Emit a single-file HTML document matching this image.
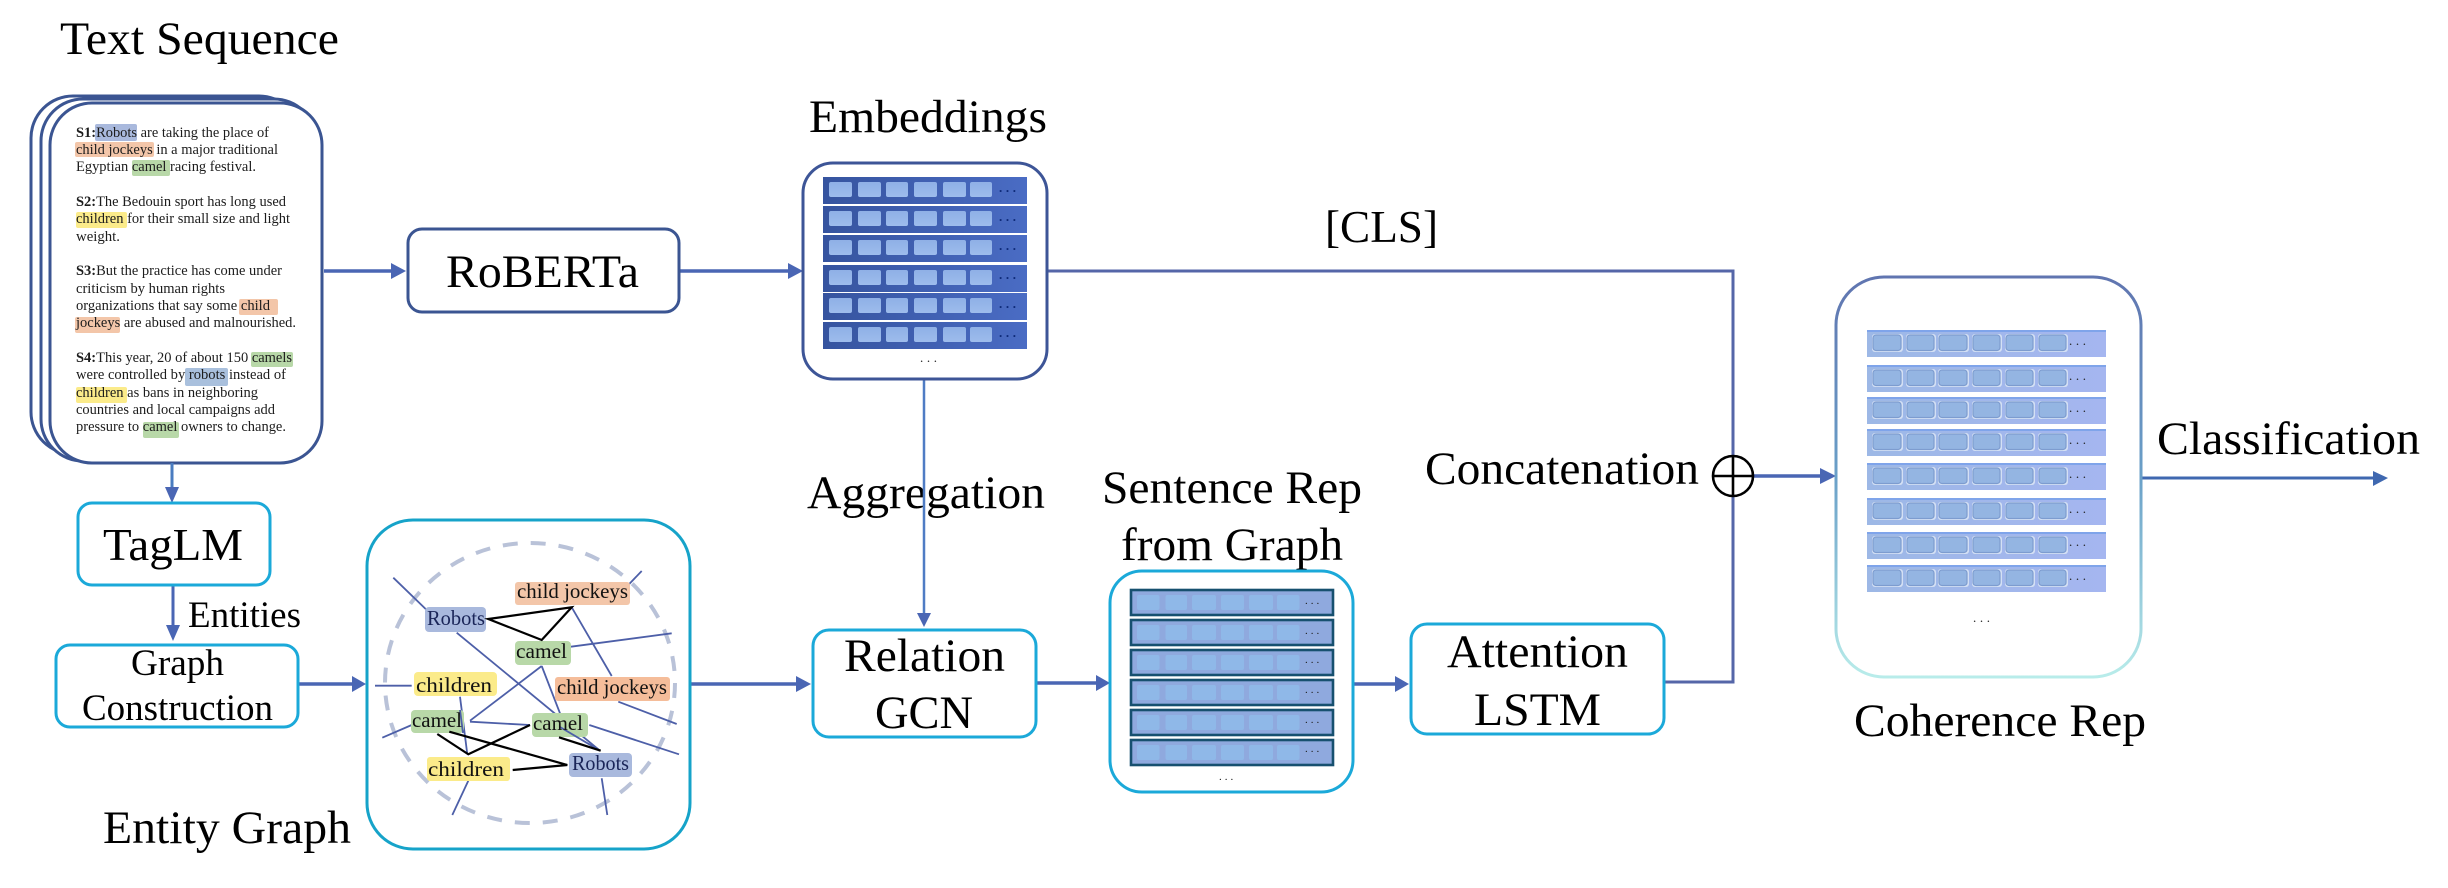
<!DOCTYPE html>
<html lang="en">
<head>
<meta charset="utf-8">
<title>Coherence model architecture</title>
<style>
html,body{margin:0;padding:0;background:#fff;width:2448px;height:888px;overflow:hidden}
svg{display:block}
text{font-family:"Liberation Serif",serif;fill:#000}
.seq{font-size:14.5px;fill:#1c1c1c}
.ent{font-size:21px;fill:#111}
.d{font-size:13px;letter-spacing:3.6px;fill:#0e2a78;font-weight:bold}
.d2{font-size:13px;letter-spacing:3.6px;fill:#222}
.bl{stroke:#000;stroke-width:2.2;fill:none}
.th{stroke:#4d5fa8;stroke-width:1.8;fill:none}
.ln{stroke:#4a66b4;stroke-width:3.5;fill:none}
.hd{fill:#4a66b4}
</style>
</head>
<body>
<svg width="2448" height="888" viewBox="0 0 2448 888" xmlns="http://www.w3.org/2000/svg">
<defs>
<linearGradient id="eg" x1="0" x2="1" y1="0" y2="0"><stop offset="0" stop-color="#36549f"/><stop offset="1" stop-color="#4a6cc4"/></linearGradient>
<linearGradient id="ec" x1="0" x2="0" y1="0" y2="1"><stop offset="0" stop-color="#8fb0e6"/><stop offset="1" stop-color="#9dbcec"/></linearGradient>
<linearGradient id="cg" x1="0" x2="1" y1="0" y2="0"><stop offset="0" stop-color="#9db8e6"/><stop offset="1" stop-color="#a5b6f0"/></linearGradient>
<linearGradient id="cb" x1="0" x2="0" y1="0" y2="1"><stop offset="0" stop-color="#6075b0"/><stop offset="0.5" stop-color="#6aa0c8"/><stop offset="1" stop-color="#b8ecea"/></linearGradient>
<g id="er">
<rect x="0" y="0" width="204" height="27" fill="url(#eg)"/>
<rect x="6" y="5" width="23" height="15" rx="2" fill="url(#ec)"/>
<rect x="35" y="5" width="23" height="15" rx="2" fill="url(#ec)"/>
<rect x="63" y="5" width="22" height="15" rx="2" fill="url(#ec)"/>
<rect x="91" y="5" width="23" height="15" rx="2" fill="url(#ec)"/>
<rect x="120" y="5" width="23" height="15" rx="2" fill="url(#ec)"/>
<rect x="147" y="5" width="22" height="15" rx="2" fill="url(#ec)"/>
</g>
<g id="sr">
<rect x="1" y="1" width="202" height="25" fill="#8fa9de" stroke="#17506f" stroke-width="2.6"/>
<rect x="7" y="6" width="22.5" height="15" rx="2" fill="#8fb8e8"/>
<rect x="35.500" y="6" width="21.500" height="15" rx="2" fill="#8fb8e8"/>
<rect x="62" y="6" width="24" height="15" rx="2" fill="#8fb8e8"/>
<rect x="91" y="6" width="23" height="15" rx="2" fill="#8fb8e8"/>
<rect x="119" y="6" width="24" height="15" rx="2" fill="#8fb8e8"/>
<rect x="147" y="6" width="22.500" height="15" rx="2" fill="#8fb8e8"/>
</g>
<g id="cr">
<rect x="0" y="0" width="239" height="27" fill="url(#cg)"/>
<rect x="0" y="0" width="239" height="2" fill="#7fa4ea"/>
<g fill="#d4e0f4">
<rect x="5" y="4" width="31" height="18" rx="3"/>
<rect x="39" y="4" width="30" height="18" rx="3"/>
<rect x="71" y="4" width="31" height="18" rx="3"/>
<rect x="105" y="4" width="30" height="18" rx="3"/>
<rect x="138" y="4" width="30" height="18" rx="3"/>
<rect x="171" y="4" width="30" height="18" rx="3"/>
</g>
<g fill="#94b5e2" stroke="#7d9ccf" stroke-width="1.200">
<rect x="6" y="5" width="28" height="15.500" rx="3"/>
<rect x="40" y="5" width="27" height="15.500" rx="3"/>
<rect x="72" y="5" width="28" height="15.500" rx="3"/>
<rect x="106" y="5" width="27" height="15.500" rx="3"/>
<rect x="139" y="5" width="27" height="15.500" rx="3"/>
<rect x="172" y="5" width="27" height="15.500" rx="3"/>
</g>
</g>
</defs>

<rect width="2448" height="888" fill="#fff"/>

<!-- Titles -->
<text x="60" y="54" font-size="47" textLength="279" lengthAdjust="spacingAndGlyphs">Text Sequence</text>
<text x="809" y="132" font-size="47" textLength="238" lengthAdjust="spacingAndGlyphs">Embeddings</text>
<text x="1325" y="242" font-size="46" textLength="113" lengthAdjust="spacingAndGlyphs">[CLS]</text>
<text x="807" y="508" font-size="47" textLength="238" lengthAdjust="spacingAndGlyphs">Aggregation</text>
<text x="1102" y="503" font-size="47" textLength="260" lengthAdjust="spacingAndGlyphs">Sentence Rep</text>
<text x="1121" y="560" font-size="47" textLength="222" lengthAdjust="spacingAndGlyphs">from Graph</text>
<text x="1425" y="484" font-size="47" textLength="274" lengthAdjust="spacingAndGlyphs">Concatenation</text>
<text x="2157" y="454" font-size="47" textLength="263" lengthAdjust="spacingAndGlyphs">Classification</text>
<text x="1854" y="736" font-size="47" textLength="292" lengthAdjust="spacingAndGlyphs">Coherence Rep</text>
<text x="103" y="843" font-size="47" textLength="248" lengthAdjust="spacingAndGlyphs">Entity Graph</text>
<text x="188" y="627" font-size="37" textLength="113" lengthAdjust="spacingAndGlyphs">Entities</text>

<!-- Stack of text cards -->
<g fill="#fff" stroke="#3b5592" stroke-width="3">
<rect x="31" y="96" width="270" height="358" rx="42"/>
<rect x="41" y="99" width="275" height="362" rx="42"/>
<rect x="50" y="103" width="272" height="360" rx="42"/>
</g>
<g>
<rect x="95" y="124" width="42" height="17" rx="2" fill="#a9b9dd"/>
<rect x="75" y="142" width="79" height="15" rx="2" fill="#f3c6a9"/>
<rect x="132" y="160" width="38" height="16" rx="2" fill="#b8d8a8"/>
<rect x="76" y="212" width="51" height="16" rx="2" fill="#fbeb8a"/>
<rect x="239" y="299" width="39" height="16" rx="2" fill="#f3c6a9"/>
<rect x="75" y="317" width="45" height="16" rx="2" fill="#f3c6a9"/>
<rect x="251" y="352" width="42" height="15" rx="2" fill="#b8d8a8"/>
<rect x="185" y="368" width="43" height="18" rx="2" fill="#a9c0dd"/>
<rect x="76" y="387" width="51" height="16" rx="2" fill="#fbeb8a"/>
<rect x="143" y="422" width="36" height="16" rx="2" fill="#b8d8a8"/>
</g>
<g class="seq">
<text class="seq" x="76" y="137" textLength="193" lengthAdjust="spacingAndGlyphs"><tspan font-weight="bold">S1:</tspan>Robots are taking the place of</text>
<text class="seq" x="76" y="154" textLength="202" lengthAdjust="spacingAndGlyphs">child jockeys in a major traditional</text>
<text class="seq" x="76" y="171" textLength="180" lengthAdjust="spacingAndGlyphs">Egyptian camel racing festival.</text>
<text class="seq" x="76" y="206" textLength="210" lengthAdjust="spacingAndGlyphs"><tspan font-weight="bold">S2:</tspan>The Bedouin sport has long used</text>
<text class="seq" x="76" y="223" textLength="214" lengthAdjust="spacingAndGlyphs">children for their small size and light</text>
<text class="seq" x="76" y="241" textLength="44" lengthAdjust="spacingAndGlyphs">weight.</text>
<text class="seq" x="76" y="275" textLength="206" lengthAdjust="spacingAndGlyphs"><tspan font-weight="bold">S3:</tspan>But the practice has come under</text>
<text class="seq" x="76" y="293" textLength="149" lengthAdjust="spacingAndGlyphs">criticism by human rights</text>
<text class="seq" x="76" y="310" textLength="194" lengthAdjust="spacingAndGlyphs">organizations that say some child</text>
<text class="seq" x="76" y="327" textLength="220" lengthAdjust="spacingAndGlyphs">jockeys are abused and malnourished.</text>
<text class="seq" x="76" y="362" textLength="216" lengthAdjust="spacingAndGlyphs"><tspan font-weight="bold">S4:</tspan>This year, 20 of about 150 camels</text>
<text class="seq" x="76" y="379" textLength="210" lengthAdjust="spacingAndGlyphs">were controlled by robots instead of</text>
<text class="seq" x="76" y="397" textLength="182" lengthAdjust="spacingAndGlyphs">children as bans in neighboring</text>
<text class="seq" x="76" y="414" textLength="199" lengthAdjust="spacingAndGlyphs">countries and local campaigns add</text>
<text class="seq" x="76" y="431" textLength="210" lengthAdjust="spacingAndGlyphs">pressure to camel owners to change.</text>
</g>

<!-- Connectors (behind boxes) -->
<g class="ln">
<path d="M324 271H393"/>
<path d="M679 271H790"/>
<path d="M172 463V490" style="stroke:#4a7cc0;stroke-width:3"/>
<path d="M173 585V627" style="stroke-width:3"/>
<path d="M298 684H354"/>
<path d="M690 684H798"/>
<path d="M1036 683H1098"/>
<path d="M1353 684H1396"/>
<path d="M1754 476H1822"/>
<path d="M2141 478H2374" style="stroke:#3f68b0;stroke-width:3"/>
<path d="M924 378V615" style="stroke:#4f7cc4;stroke-width:2.5"/>
<path d="M1047 271H1733V682H1664" style="stroke:#5566a8;stroke-width:3"/>
</g>
<g class="hd">
<polygon points="391,263 391,279 406,271"/>
<polygon points="788,263 788,279 803,271"/>
<polygon points="165,487 179,487 172,503"/>
<polygon points="166,625 180,625 173,641"/>
<polygon points="352,676 352,692 366,684"/>
<polygon points="796,676 796,692 811,684"/>
<polygon points="917,613 931,613 924,627"/>
<polygon points="1096,675 1096,691 1110,683"/>
<polygon points="1395,676 1395,692 1409,684"/>
<polygon points="1820,468 1820,484 1836,476"/>
<polygon points="2373,471 2373,486 2388,478" style="fill:#3f68b0"/>
</g>

<!-- Circle plus -->
<circle cx="1733" cy="476" r="20" fill="#fff" stroke="#000" stroke-width="2.6"/>
<path d="M1713 476H1753M1733 456V496" stroke="#000" stroke-width="2.6" fill="none"/>

<!-- Boxes -->
<g fill="#fff">
<rect x="408" y="229" width="271" height="83" rx="14" stroke="#3b5592" stroke-width="3"/>
<rect x="78" y="503" width="192" height="82" rx="14" stroke="#1ba9d9" stroke-width="3"/>
<rect x="56" y="645" width="242" height="82" rx="14" stroke="#1ba9d9" stroke-width="3"/>
<rect x="813" y="630" width="223" height="107" rx="16" stroke="#1ba9d9" stroke-width="3"/>
<rect x="1411" y="624" width="253" height="110" rx="16" stroke="#1ba9d9" stroke-width="3"/>
</g>
<text x="446" y="287" font-size="47" textLength="193" lengthAdjust="spacingAndGlyphs">RoBERTa</text>
<text x="103" y="560" font-size="46" textLength="140" lengthAdjust="spacingAndGlyphs">TagLM</text>
<text x="131" y="675" font-size="37" textLength="93" lengthAdjust="spacingAndGlyphs">Graph</text>
<text x="82" y="720" font-size="37" textLength="191" lengthAdjust="spacingAndGlyphs">Construction</text>
<text x="844" y="671" font-size="47" textLength="161" lengthAdjust="spacingAndGlyphs">Relation</text>
<text x="875" y="728" font-size="47" textLength="98" lengthAdjust="spacingAndGlyphs">GCN</text>
<text x="1447" y="667" font-size="47" textLength="181" lengthAdjust="spacingAndGlyphs">Attention</text>
<text x="1474" y="725" font-size="47" textLength="127" lengthAdjust="spacingAndGlyphs">LSTM</text>

<!-- Embeddings -->
<rect x="803" y="163" width="244" height="216" rx="30" fill="#fff" stroke="#3d5597" stroke-width="3"/>
<use href="#er" x="823" y="177"/>
<use href="#er" x="823" y="206"/>
<use href="#er" x="823" y="235"/>
<use href="#er" x="823" y="265"/>
<use href="#er" x="823" y="293"/>
<use href="#er" x="823" y="322"/>
<text class="d" x="999" y="192">...</text>
<text class="d" x="999" y="221">...</text>
<text class="d" x="999" y="250">...</text>
<text class="d" x="999" y="279">...</text>
<text class="d" x="999" y="308">...</text>
<text class="d" x="999" y="337">...</text>
<text class="d2" x="920" y="362">...</text>

<!-- Sentence rep -->
<rect x="1110" y="571" width="243" height="221" rx="32" fill="#fff" stroke="#1ba9d9" stroke-width="3"/>
<use href="#sr" x="1130" y="589"/>
<use href="#sr" x="1130" y="619"/>
<use href="#sr" x="1130" y="649"/>
<use href="#sr" x="1130" y="679"/>
<use href="#sr" x="1130" y="709"/>
<use href="#sr" x="1130" y="739"/>
<text class="d2" x="1305" y="604" style="font-size:11px;letter-spacing:3px">...</text>
<text class="d2" x="1305" y="634" style="font-size:11px;letter-spacing:3px">...</text>
<text class="d2" x="1305" y="663" style="font-size:11px;letter-spacing:3px">...</text>
<text class="d2" x="1305" y="693" style="font-size:11px;letter-spacing:3px">...</text>
<text class="d2" x="1305" y="723" style="font-size:11px;letter-spacing:3px">...</text>
<text class="d2" x="1305" y="752" style="font-size:11px;letter-spacing:3px">...</text>
<text class="d2" x="1219" y="780" style="font-size:11px;letter-spacing:3px">...</text>

<!-- Coherence rep -->
<rect x="1836" y="277" width="305" height="400" rx="48" fill="#fff" stroke="url(#cb)" stroke-width="3"/>
<use href="#cr" x="1867" y="330"/>
<use href="#cr" x="1867" y="365"/>
<use href="#cr" x="1867" y="397"/>
<use href="#cr" x="1867" y="429"/>
<use href="#cr" x="1867" y="463"/>
<use href="#cr" x="1867" y="498"/>
<use href="#cr" x="1867" y="532"/>
<use href="#cr" x="1867" y="565"/>
<g>
<text class="d2" x="2069" y="345">...</text>
<text class="d2" x="2069" y="380">...</text>
<text class="d2" x="2069" y="412">...</text>
<text class="d2" x="2069" y="444">...</text>
<text class="d2" x="2069" y="478">...</text>
<text class="d2" x="2069" y="513">...</text>
<text class="d2" x="2069" y="546">...</text>
<text class="d2" x="2069" y="580">...</text>
<text class="d2" x="1973" y="622">...</text>
</g>

<!-- Entity graph -->
<rect x="367" y="520" width="323" height="329" rx="46" fill="#fff" stroke="#16a3c9" stroke-width="3"/>
<ellipse cx="530" cy="683" rx="145" ry="140" fill="none" stroke="#b9c2d8" stroke-width="4" stroke-dasharray="15 13"/>
<g class="th">
<path d="M393.300 577.700L426.700 610"/>
<path d="M456.700 632.700L600 750.700"/>
<path d="M628.300 585L641.700 571"/>
<path d="M571.700 607.300L611.700 676"/>
<path d="M571 646.700L671.700 633.300"/>
<path d="M375 685.700L411.700 685.700"/>
<path d="M541.700 666L560 713.300"/>
<path d="M618.300 701.700L676.700 724"/>
<path d="M589.300 725L679 754.300"/>
<path d="M460 696.700L467.300 754.300"/>
<path d="M382.300 737.700L411.700 725"/>
<path d="M468.300 780.700L452.300 815"/>
<path d="M601.700 778.300L607.300 815"/>
<path d="M470 720.700L541.700 666"/>
<path d="M470 721.700L530 725"/>
</g>
<g>
<rect x="425" y="607" width="61" height="25" rx="4" fill="#a9b9dd"/>
<rect x="515" y="582" width="115" height="23" rx="3" fill="#f3c6a9"/>
<rect x="515" y="641" width="56" height="24" rx="4" fill="#b8d8a8"/>
<rect x="414" y="672" width="83" height="24" rx="4" fill="#fbeb8a"/>
<rect x="555" y="677" width="115" height="24" rx="3" fill="#f5bd9a"/>
<rect x="411" y="710" width="53" height="23" rx="4" fill="#b8d8a8"/>
<rect x="532" y="713" width="56" height="24" rx="4" fill="#b8d8a8"/>
<rect x="427" y="757" width="83" height="24" rx="3" fill="#fbeb8a"/>
<rect x="569" y="753" width="63" height="24" rx="4" fill="#a9b9dd"/>
</g>
<g class="th">
<path d="M532 726L600 750.700" style="display:none"/>
<path d="M560 727L600 750.700"/>
<path d="M553 713.300L560 713.300" style="display:none"/>
<path d="M460 710L463 733"/>
</g>
<g class="bl">
<path d="M488.300 619L571.700 607.300L541.700 640Z"/>
<path d="M530 725L468.300 754.300L437.300 734"/>
<path d="M449.300 731.700L567.300 765L512.700 770"/>
<path d="M559 737.300L600.700 750.700"/>
</g>
<g>
<text class="ent" x="427" y="625" textLength="58" lengthAdjust="spacingAndGlyphs" style="fill:#1a2558">Robots</text>
<text class="ent" x="517" y="598" textLength="111" lengthAdjust="spacingAndGlyphs">child jockeys</text>
<text class="ent" x="516" y="658" textLength="51" lengthAdjust="spacingAndGlyphs">camel</text>
<text class="ent" x="416" y="692" textLength="76" lengthAdjust="spacingAndGlyphs">children</text>
<text class="ent" x="557" y="694" textLength="110" lengthAdjust="spacingAndGlyphs">child jockeys</text>
<text class="ent" x="412" y="727" textLength="50" lengthAdjust="spacingAndGlyphs">camel</text>
<text class="ent" x="533" y="730" textLength="50" lengthAdjust="spacingAndGlyphs">camel</text>
<text class="ent" x="428" y="776" textLength="76" lengthAdjust="spacingAndGlyphs">children</text>
<text class="ent" x="572" y="770" textLength="57" lengthAdjust="spacingAndGlyphs" style="fill:#1a2558">Robots</text>
</g>
</svg>
</body>
</html>
